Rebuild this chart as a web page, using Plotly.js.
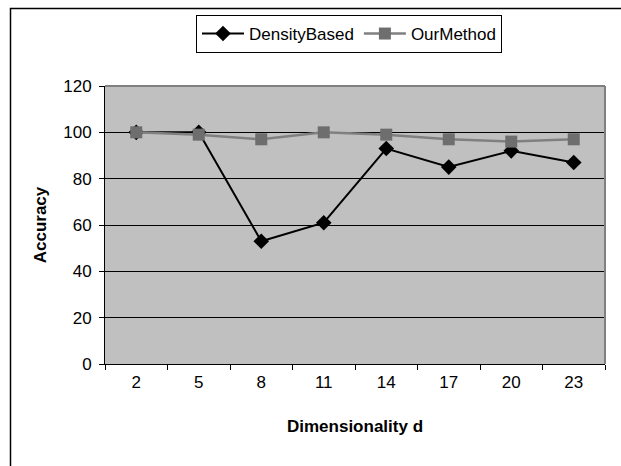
<!DOCTYPE html>
<html>
<head>
<meta charset="utf-8">
<script src="https://cdn.plot.ly/plotly-3.0.1.min.js"></script>
<style>
  html, body { margin: 0; padding: 0; background: #fff; }
  #chart { width: 621px; height: 466px; }
</style>
</head>
<body>
<div id="chart"></div>
<script>
// Accuracy by dimensionality for the two methods
const dims = ['2', '5', '8', '11', '14', '17', '20', '23'];
const densityBased = [100, 100, 53, 61, 93, 85, 92, 87];
const ourMethod = [100, 99, 97, 100, 99, 97, 96, 97];

const FONT = 'Liberation Sans, Arial, sans-serif';
const FS = 17;

const W = 621, H = 466;
const M = { l: 105, r: 16, t: 86, b: 102 };
const pw = W - M.l - M.r, ph = H - M.t - M.b;
// pixel -> paper helpers for the outer frame and legend
const px = x => (x - M.l) / pw;
const py = y => (H - M.b - y) / ph;

const traces = [
  {
    x: dims, y: densityBased, name: 'DensityBased',
    type: 'scatter', mode: 'lines+markers',
    line: { color: '#000000', width: 2 },
    marker: { symbol: 'diamond', size: 12, color: '#000000' }
  },
  {
    x: dims, y: ourMethod, name: 'OurMethod',
    type: 'scatter', mode: 'lines+markers',
    line: { color: '#808080', width: 2.5 },
    marker: { symbol: 'square', size: 12, color: '#6e6e6e' }
  }
];

const layout = {
  width: W, height: H,
  margin: M,
  paper_bgcolor: '#ffffff',
  plot_bgcolor: '#c0c0c0',
  font: { family: FONT, size: FS, color: '#000' },
  showlegend: true,
  legend: {
    orientation: 'h',
    x: px(196), y: py(15), xanchor: 'left', yanchor: 'top',
    bgcolor: '#ffffff', bordercolor: '#000000', borderwidth: 1,
    font: { family: FONT, size: FS },
    itemwidth: 42,
    tracegroupgap: 0
  },
  xaxis: {
    type: 'category',
    range: [-0.5, 7.5],
    tickson: 'boundaries',
    ticks: 'outside', ticklen: 5, tickcolor: '#000',
    ticklabelstandoff: 3,
    showline: true, linecolor: '#000', linewidth: 1,
    showgrid: false, zeroline: false,
    tickfont: { family: FONT, size: FS },
    title: { text: 'Dimensionality d', font: { family: FONT, size: FS, weight: 'bold' }, standoff: 28 }
  },
  yaxis: {
    range: [0, 120], dtick: 20,
    ticks: 'outside', ticklen: 5, tickcolor: '#000',
    ticklabelstandoff: 4,
    showline: true, linecolor: '#000', linewidth: 1,
    showgrid: true, gridcolor: '#000', gridwidth: 1,
    zeroline: false,
    tickfont: { family: FONT, size: FS },
    title: { text: 'Accuracy', font: { family: FONT, size: FS, weight: 'bold' }, standoff: 12 }
  },
  shapes: [
    // grey frame on top/right of the plot area
    { type: 'line', xref: 'paper', yref: 'paper', x0: 0, x1: 1, y0: 1, y1: 1,
      line: { color: '#808080', width: 2 } },
    { type: 'line', xref: 'paper', yref: 'paper', x0: 1, x1: 1, y0: 0, y1: 1,
      line: { color: '#808080', width: 2 } },
    // outer chart frame
    { type: 'rect', xref: 'paper', yref: 'paper', layer: 'below',
      x0: px(10.5), x1: px(640), y0: py(8.5), y1: py(490),
      line: { color: '#000', width: 1.5 }, fillcolor: 'rgba(0,0,0,0)' }
  ]
};

Plotly.newPlot('chart', traces, layout, { displayModeBar: false, staticPlot: true });
</script>
</body>
</html>
